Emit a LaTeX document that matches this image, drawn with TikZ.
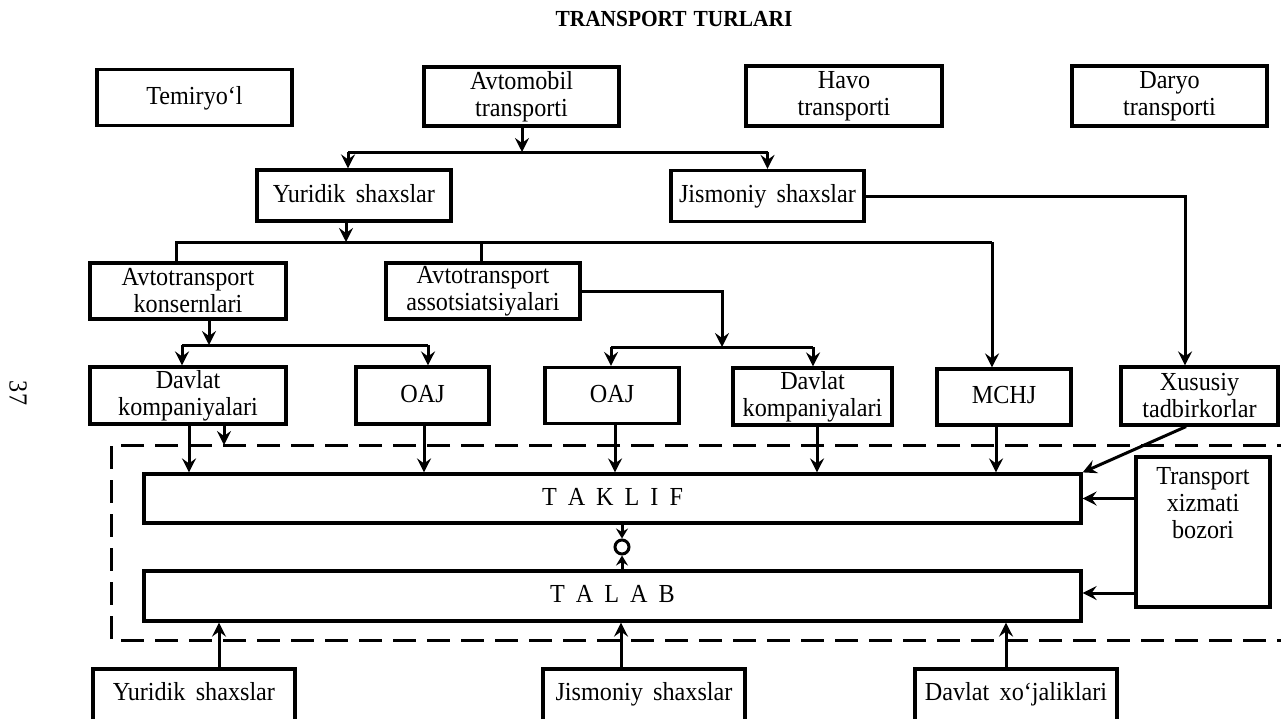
\documentclass[tikz,border=0pt]{standalone}
\usepackage{fontspec}
\setmainfont{Liberation Serif}[WordSpace=1.7, FakeStretch=0.93]
\usetikzlibrary{arrows.meta}
\begin{document}
\begin{tikzpicture}[x=1pt,y=-1pt,
  txt/.style={font=\fontsize{26}{27}\selectfont, align=center},
  one/.style={text height=18pt, text depth=5pt},
  box/.style={txt, draw, line width=3.2pt, inner sep=0pt},
  conn/.style={line width=3pt},
  arr/.style={conn, -{Stealth[length=14pt,width=14pt,inset=5pt]}},
  sarr/.style={conn, -{Stealth[length=10pt,width=12pt,inset=3.5pt]}},
  frame/.style={line width=3pt, dash pattern=on 23pt off 11pt}]
\clip (0,0) rectangle (1281,718);
\fill[white] (0,0) rectangle (1281,718);

% title and page number
\node[font=\bfseries\fontsize{23}{26}\selectfont, anchor=west] (title) at (552,19) {TRANSPORT\hspace{7pt}TURLARI};
\node[txt, rotate=-90] (page) at (18,393) {37};

% row 1
\node[box, one, minimum width=195pt, minimum height=56pt] (temir) at (194.5,97.5) {Temiryo‘l};
\node[box, minimum width=195pt, minimum height=59pt] (avto) at (521.5,96.5) {Avtomobil\\transporti};
\node[box, minimum width=196pt, minimum height=60pt] (havo) at (844,96) {Havo\\transporti};
\node[box, minimum width=195pt, minimum height=60pt] (daryo) at (1169.5,96) {Daryo\\transporti};

% row 2
\node[box, one, minimum width=194pt, minimum height=51pt] (yur) at (354,195.5) {Yuridik shaxslar};
\node[box, one, minimum width=193pt, minimum height=51pt] (jis) at (767.5,196) {Jismoniy shaxslar};

% row 3
\node[box, minimum width=196pt, minimum height=56pt] (kons) at (188,291) {Avtotransport\\konsernlari};
\node[box, minimum width=194pt, minimum height=56pt] (assot) at (483,291) {Avtotransport\\assotsiatsiyalari};

% row 4
\node[box, minimum width=196pt, minimum height=57pt] (dav1) at (188,395.5) {Davlat\\kompaniyalari};
\node[box, one, minimum width=133pt, minimum height=57pt] (oaj1) at (422.5,395.5) {OAJ};
\node[box, one, minimum width=134pt, minimum height=56pt] (oaj2) at (612,395.5) {OAJ};
\node[box, minimum width=159pt, minimum height=57pt] (dav2) at (812.5,396.5) {Davlat\\kompaniyalari};
\node[box, one, minimum width=134pt, minimum height=56pt] (mchj) at (1004,397) {MCHJ};
\node[box, minimum width=157pt, minimum height=58pt] (xus) at (1199.5,396) {Xususiy\\tadbirkorlar};

% market frame
\coordinate (fr1) at (1300,445);
\coordinate (fr2) at (111,640);
\coordinate (fr3) at (1300,640);
\draw[frame] (fr1) -| (fr2) -- (fr3);

\node[box, one, minimum width=937pt, minimum height=49pt] (taklif) at (612.5,498.5) {T\hspace{11pt}A\hspace{11pt}K\hspace{11pt}L\hspace{11pt}I\hspace{11pt}F};
\node[box, one, minimum width=937pt, minimum height=50pt] (talab) at (612.5,596) {T\hspace{11pt}A\hspace{11pt}L\hspace{11pt}A\hspace{11pt}B};
\node[draw, circle, line width=3pt, minimum size=14pt, inner sep=0pt] (eq) at (622,547) {};
\node[draw, line width=3.2pt, minimum width=134pt, minimum height=150pt] (tr) at (1203,532) {};
\node[txt, anchor=north] (trt) at (1203,464) {Transport\\xizmati\\bozori};

% bottom row
\node[draw, line width=3.2pt, minimum width=202pt, minimum height=62pt] (yb) at (194,700) {};
\node[draw, line width=3.2pt, minimum width=202pt, minimum height=62pt] (jb) at (644,700) {};
\node[draw, line width=3.2pt, minimum width=202pt, minimum height=62pt] (db) at (1016,700) {};
\node[txt, one] (ybt) at (194,694) {Yuridik shaxslar};
\node[txt, one] (jbt) at (644,694) {Jismoniy shaxslar};
\node[txt, one] (dbt) at (1016,694) {Davlat xo‘jaliklari};

% connectors: level 1
\coordinate (b1) at (522,152);
\coordinate (b1l) at (348,152);
\coordinate (b1r) at (767.5,152);
\draw[arr] (522,0 |- avto.south) -- (b1);
\draw[conn] (b1l) -- (b1r);
\draw[arr] (b1l) -- (348,0 |- yur.north);
\draw[arr] (b1r) -- (jis.north);

% level 2
\coordinate (b2) at (346,242);
\coordinate (b2l) at (176,242);
\coordinate (b2m) at (481,242);
\coordinate (b2r) at (992,242);
\draw[arr] (346,0 |- yur.south) -- (b2);
\draw[conn] (176,0 |- kons.north) -- (b2l) -- (b2r);
\draw[conn] (b2m) -- (481,0 |- assot.north);
\draw[arr] (b2r) -- (992,0 |- mchj.north);
\draw[arr] (jis.east) -- (1185,0 |- jis.east) -- (1185,0 |- xus.north);

% level 3
\coordinate (b3) at (209,345);
\coordinate (b3l) at (182,345);
\coordinate (b3r) at (428,345);
\draw[arr] (209,0 |- kons.south) -- (b3);
\draw[conn] (b3l) -- (b3r);
\draw[arr] (b3l) -- (182,0 |- dav1.north);
\draw[arr] (b3r) -- (428,0 |- oaj1.north);

\coordinate (b4) at (722,347);
\coordinate (b4l) at (611,347);
\coordinate (b4r) at (813,347);
\draw[arr] (assot.east) -- (722,0 |- assot.east) -- (b4);
\draw[conn] (b4l) -- (b4r);
\draw[arr] (b4l) -- (611,0 |- oaj2.north);
\draw[arr] (b4r) -- (813,0 |- dav2.north);

% into TAKLIF
\coordinate (fd) at (224,445);
\draw[arr] (189,0 |- dav1.south) -- (189,0 |- taklif.north);
\draw[arr] (224,0 |- dav1.south) -- (fd);
\draw[arr] (424,0 |- oaj1.south) -- (424,0 |- taklif.north);
\draw[arr] (615,0 |- oaj2.south) -- (615,0 |- taklif.north);
\draw[arr] (817,0 |- dav2.south) -- (817,0 |- taklif.north);
\draw[arr] (996,0 |- mchj.south) -- (996,0 |- taklif.north);
\draw[arr] (1186,0 |- xus.south) -- (taklif.north east);
\draw[arr] (tr.west |- taklif.east) -- (taklif.east);
\draw[arr] (tr.west |- 0,593) -- (talab.east |- 0,593);

% equilibrium
\draw[sarr] (622,0 |- taklif.south) -- (eq.north);
\draw[sarr] (622,0 |- talab.north) -- (eq.south);

% demand sources
\draw[arr] (219,0 |- yb.north) -- (219,0 |- talab.south);
\draw[arr] (621,0 |- jb.north) -- (621,0 |- talab.south);
\draw[arr] (1006,0 |- db.north) -- (1006,0 |- talab.south);
\end{tikzpicture}
\end{document}
